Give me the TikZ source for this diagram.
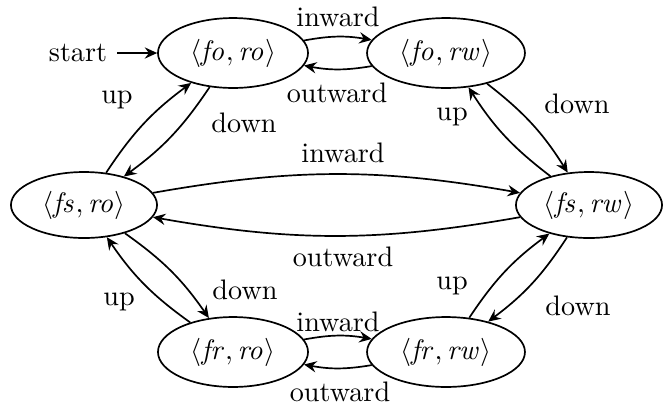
\documentclass[tikz,border=0pt]{standalone}
\usetikzlibrary{shapes.geometric,arrows.meta}
\begin{document}
\begin{tikzpicture}[x=0.3546pt,y=-0.3546pt,
  >={Stealth[length=4.4pt,width=4pt,inset=1.5pt]},
  state/.style={ellipse,draw,line width=0.6pt,inner sep=0pt,minimum height=24.8pt},
  wide/.style={minimum width=56pt},
  mid/.style={minimum width=53.2pt},
  narrow/.style={minimum width=51.8pt,minimum height=23.4pt},
  trans/.style={->,line width=0.6pt,bend left=10},
  lab/.style={inner sep=0pt}]
\useasboundingbox (0,0) rectangle (665,405);
\node[state,mid] (foro) at (233,53) {$\langle \mathit{fo}, \mathit{ro}\rangle$};
\node[state,wide] (forw) at (446,53) {$\langle \mathit{fo}, \mathit{rw}\rangle$};
\node[state,narrow] (fsro) at (84,205) {$\langle \mathit{fs}, \mathit{ro}\rangle$};
\node[state,narrow] (fsrw) at (589,205) {$\langle \mathit{fs}, \mathit{rw}\rangle$};
\node[state,mid] (frro) at (233,352) {$\langle \mathit{fr}, \mathit{ro}\rangle$};
\node[state,wide] (frrw) at (446,352) {$\langle \mathit{fr}, \mathit{rw}\rangle$};
\node (start) at (78,53) {start};
\draw[->,line width=0.6pt] (start) -- (foro);
\draw[trans] (foro) to (forw);
\draw[trans] (forw) to (foro);
\draw[trans] (foro) to (fsro);
\draw[trans] (fsro) to (foro);
\draw[trans] (forw) to (fsrw);
\draw[trans] (fsrw) to (forw);
\draw[trans] (fsro) to (fsrw);
\draw[trans] (fsrw) to (fsro);
\draw[trans] (fsro) to (frro);
\draw[trans] (frro) to (fsro);
\draw[trans] (frrw) to (fsrw);
\draw[trans] (fsrw) to (frrw);
\draw[trans] (frro) to (frrw);
\draw[trans] (frrw) to (frro);
\node[lab] (l1) at (338,17) {inward};
\node[lab] (l2) at (337,93) {outward};
\node[lab] (l3) at (244,123) {down};
\node[lab] (l4) at (117,100) {up};
\node[lab] (l5) at (577,104) {down};
\node[lab] (l6) at (452,117) {up};
\node[lab] (l7) at (343,153) {inward};
\node[lab] (l8) at (343,257) {outward};
\node[lab] (l9) at (245,290) {down};
\node[lab] (l10) at (119,302) {up};
\node[lab] (l11) at (452,286) {up};
\node[lab] (l12) at (578,306) {down};
\node[lab] (l13) at (338,322) {inward};
\node[lab] (l14) at (340,392) {outward};
\end{tikzpicture}
\end{document}
